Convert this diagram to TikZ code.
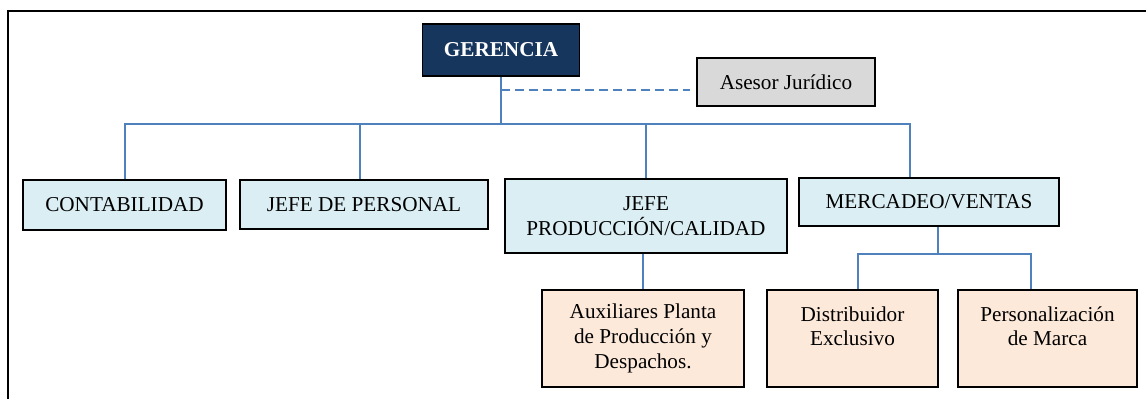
\documentclass[tikz,border=0pt]{standalone}
\usepackage{fontspec}
\setmainfont{Liberation Serif}
\usepackage{xcolor}
\usepackage{tikz}
\definecolor{navy}{HTML}{17365D}
\definecolor{celeste}{HTML}{DAEEF3}
\definecolor{durazno}{HTML}{FDE9D9}
\definecolor{gris}{HTML}{D9D9D9}
\definecolor{linea}{HTML}{4F81BD}
\begin{document}
\begin{tikzpicture}[x=0.5pt,y=-0.5pt,
    caja/.style={draw=black,line width=0.9pt,align=center,inner sep=0pt,
      font=\fontsize{10.6pt}{12.4pt}\selectfont},
    jefe/.style={caja,fill=celeste},
    aux/.style={caja,fill=durazno,minimum height=48.5pt},
    conn/.style={draw=linea,line width=0.8pt}]
    \useasboundingbox (0,0) rectangle (1146,399);
    \draw[line width=1.1pt] (8,399) -- (8,11) -- (1146,11);
    \node[caja,fill=navy,text=white,font=\fontsize{10.6pt}{12.4pt}\selectfont\bfseries,
      minimum width=78.5pt,minimum height=26pt] (ger) at (501,50) {GERENCIA};
    \node[caja,fill=gris,minimum width=89pt,minimum height=24pt] (ase) at (786,82) {Asesor Jurídico};
    \node[jefe,minimum width=101.5pt,minimum height=25pt] (cont) at (124.5,205) {CONTABILIDAD};
    \node[jefe,minimum width=124pt,minimum height=24.5pt] (pers) at (364,204.5) {JEFE DE PERSONAL};
    \node[jefe,minimum width=141pt,minimum height=37pt] (prod) at (646,216) {JEFE\\PRODUCCIÓN/CALIDAD};
    \node[jefe,minimum width=130pt,minimum height=24pt] (merc) at (929,202) {MERCADEO/VENTAS};
    \node[aux,minimum width=101pt] (plan) at (643,338.5) {Auxiliares Planta\\de Producción y\\Despachos.};
    \node[aux,minimum width=85.5pt] (dist) at (852.5,338.5) {Distribuidor\\Exclusivo\\\phantom{X}};
    \node[aux,minimum width=89.5pt] (marc) at (1047.5,338.5) {Personalización\\de Marca\\\phantom{X}};
    \coordinate (busL) at (125,124);
    \coordinate (busR) at (910,124);
    \coordinate (asd) at (690,90);
    \coordinate (subL) at (858,254);
    \coordinate (subM) at (938,254);
    \coordinate (subR) at (1031,254);
    \draw[conn] (ger.south) -- (ger.south |- busL);
    \draw[conn,dash pattern=on 4.5pt off 2.5pt] (ger.south |- asd) -- (asd);
    \draw[conn] (busL |- cont.north) -- (busL) -- (busR) -- (busR |- merc.north);
    \draw[conn] ([xshift=-2pt]pers.north) -- ([xshift=-2pt]pers.north |- busL);
    \draw[conn] (prod.north) -- (prod.north |- busL);
    \draw[conn] (plan.north |- prod.south) -- (plan.north);
    \draw[conn] (subM |- merc.south) -- (subM);
    \draw[conn] (subL |- dist.north) -- (subL) -- (subR) -- (subR |- marc.north);
\end{tikzpicture}
\end{document}
